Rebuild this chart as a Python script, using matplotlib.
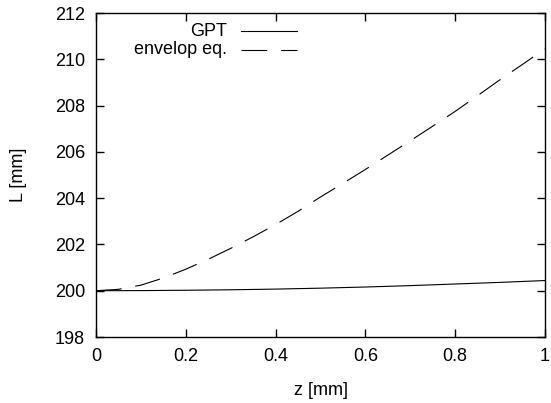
import numpy as np
import matplotlib
matplotlib.use("Agg")
import matplotlib.pyplot as plt

plt.rcParams['font.family'] = ['Liberation Sans', 'DejaVu Sans']
plt.rcParams['lines.scale_dashes'] = False

# values
z_gpt = [0.0, 0.1, 0.2, 0.3, 0.4, 0.5, 0.6, 0.7, 0.8, 0.9, 1.0]
L_gpt = [200.0, 200.005, 200.02, 200.04, 200.07, 200.11, 200.16, 200.22, 200.29, 200.36, 200.44]

z_env = [0.0, 0.05, 0.1, 0.15, 0.2, 0.25, 0.3, 0.35, 0.4, 0.45, 0.5,
         0.55, 0.6, 0.65, 0.7, 0.75, 0.8, 0.85, 0.9, 0.95, 1.0]
L_env = [200.0, 200.06, 200.24, 200.55, 200.93, 201.36, 201.83, 202.33, 202.86, 203.43, 204.05,
         204.64, 205.24, 205.86, 206.48, 207.11, 207.75, 208.43, 209.12, 209.78, 210.45]

x_ticks = [0, 0.2, 0.4, 0.6, 0.8, 1]
x_labels = ["0", "0.2", "0.4", "0.6", "0.8", "1"]
y_ticks = [198, 200, 202, 204, 206, 208, 210, 212]

fs = 13

fig = plt.figure(figsize=(5.51, 4.03), dpi=100)
ax = fig.add_axes([96 / 551, 66 / 403, 449 / 551, 324 / 403])

ax.plot(z_gpt, L_gpt, color='black', lw=0.8)
ax.plot(z_env, L_env, color='black', lw=0.8, dashes=(18.5, 10))

ax.set_xlim(0, 1)
ax.set_ylim(198, 212)
ax.set_xticks(x_ticks)
ax.set_xticklabels(x_labels)
ax.set_yticks(y_ticks)
ax.tick_params(direction='in', length=6, width=1, top=True, right=True,
               labelsize=fs, pad=8)
for s in ax.spines.values():
    s.set_linewidth(1)

ax.set_xlabel("z [mm]", fontsize=fs, labelpad=12)
ax.set_ylabel("L [mm]", fontsize=fs, labelpad=20)

# key, gnuplot style: right-aligned text, sample line after it
ax.text(0.292, 0.944, "GPT", transform=ax.transAxes, ha='right', va='center', fontsize=fs)
ax.text(0.292, 0.886, "envelop eq.", transform=ax.transAxes, ha='right', va='center', fontsize=fs)
ax.plot([0.323, 0.448], [0.944, 0.944], transform=ax.transAxes, color='black', lw=0.8)
ax.plot([0.323, 0.448], [0.886, 0.886], transform=ax.transAxes, color='black', lw=0.8,
        dashes=(18.5, 10))

fig.savefig("out.png", dpi=100)
